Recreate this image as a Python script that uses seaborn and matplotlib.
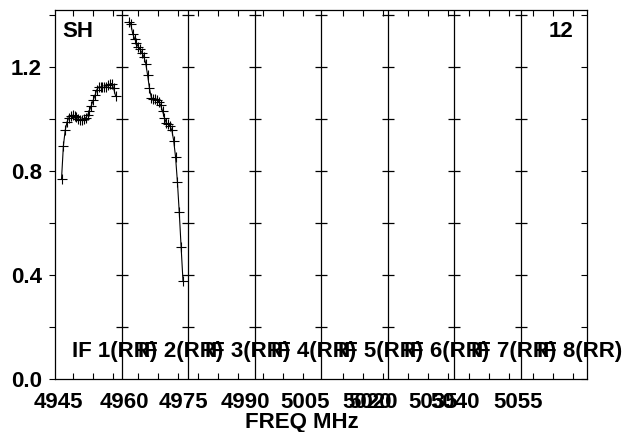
import numpy as np
import pandas as pd
import matplotlib
matplotlib.use('Agg')
import matplotlib.pyplot as plt
import seaborn as sns

sns.set_style('white')
plt.rcParams['font.family'] = ['Liberation Sans', 'DejaVu Sans']
plt.rcParams['font.weight'] = 'bold'
plt.rcParams['text.color'] = 'black'
plt.rcParams['xtick.color'] = 'black'
plt.rcParams['ytick.color'] = 'black'

# 채널 정보 (IF 1, IF 2 만 데이터가 있음)
n_chan = 30
chan_width = 0.42  # MHz
if_start = [4946.47, 4961.69]

if1_amp = [0.769, 0.897, 0.958, 0.990, 1.006, 1.014, 1.015, 1.012, 1.007, 1.002,
           0.997, 0.996, 0.999, 1.005, 1.015, 1.033, 1.052, 1.072, 1.092, 1.114,
           1.124, 1.124, 1.122, 1.122, 1.125, 1.130, 1.135, 1.137, 1.118, 1.090]
if2_amp = [1.374, 1.365, 1.329, 1.310, 1.294, 1.278, 1.268, 1.255, 1.240, 1.214,
           1.169, 1.118, 1.083, 1.078, 1.076, 1.073, 1.067, 1.054, 1.032, 1.006,
           0.986, 0.980, 0.973, 0.958, 0.917, 0.855, 0.759, 0.641, 0.507, 0.377]

# 패널 경계 (IF 8개)
panel_edges = [4945, 4960, 4975, 4990, 5005, 5020, 5035, 5050, 5065]
if_names = ['IF 1(RR)', 'IF 2(RR)', 'IF 3(RR)', 'IF 4(RR)',
            'IF 5(RR)', 'IF 6(RR)', 'IF 7(RR)', 'IF 8(RR)']

# x축 눈금
freq_tick_pos = [4945.7, 4960.6, 4973.9, 4987.9, 5001.4, 5015.4, 5016.7, 5030.3, 5035.2, 5049.4]
freq_tick_lab = ['4945', '4960', '4975', '4990', '5005', '5020', '5020', '5035', '5040', '5055']
minor_first = [4949.06, 4963.72, 4977.26, 4991.92, 5009.96, 5024.62, 5038.38, 5052.82]
minor_step = 4.51

amp_ticks = [0.0, 0.4, 0.8, 1.2]
amp_minor = [0.2, 0.6, 1.0, 1.4]

rows = []
for k, amps in enumerate([if1_amp, if2_amp]):
    for c, a in enumerate(amps):
        rows.append({'IF': k + 1, 'freq': if_start[k] + c * chan_width, 'amp': a})
df = pd.DataFrame(rows)

fig = plt.figure(figsize=(6.29, 4.32), dpi=100)
ax = fig.add_axes([55 / 629, 1 - 379 / 432, 532 / 629, 369 / 432])

sns.lineplot(data=df, x='freq', y='amp', units='IF', estimator=None, color='black',
             lw=0.8, marker='+', ms=6.5, mew=0.8, mec='black', ax=ax, legend=False)

for e in panel_edges[1:-1]:
    ax.axvline(e, color='black', lw=0.9)
    ys = amp_ticks[1:] + amp_minor
    ax.plot([e] * len(ys), ys, ls='none', marker='_', ms=9, mew=0.9, color='black')

for k, name in enumerate(if_names):
    ax.text(panel_edges[k] + 3.83, 0.085, name, fontsize=16, fontweight='bold',
            ha='left', va='baseline', color='black')

ax.text(7 / 532, (379 - 37) / 369, 'SH', transform=ax.transAxes, fontsize=16,
        fontweight='bold', ha='left', va='baseline')
ax.text((573 - 55) / 532, (379 - 37) / 369, '12', transform=ax.transAxes, fontsize=16,
        fontweight='bold', ha='right', va='baseline')

ax.set_xlim(4945, 5065)
ax.set_ylim(0, 1.42)

ax.set_xticks(freq_tick_pos)
ax.set_xticklabels(freq_tick_lab, fontsize=16, fontweight='bold')
minor_x = [m + i * minor_step for m in minor_first for i in range(3)]
ax.set_xticks(minor_x, minor=True)
ax.tick_params(axis='x', which='major', length=0, pad=9)
ax.tick_params(axis='x', which='minor', length=4.3, width=0.8, direction='in',
               top=True, bottom=True)

ax.set_yticks(amp_ticks)
ax.set_yticklabels(['0.0', '0.4', '0.8', '1.2'], fontsize=16, fontweight='bold')
ax.set_yticks(amp_minor, minor=True)
ax.tick_params(axis='y', which='both', length=4.3, width=0.8, direction='out',
               left=True, right=False, pad=5)

sec = ax.secondary_yaxis('right')
sec.set_yticks(amp_ticks + amp_minor)
sec.tick_params(axis='y', direction='in', length=4.3, width=0.8, labelright=False)
sec.spines['right'].set_visible(False)

ax.set_xlabel('')
ax.set_ylabel('')
for s in ax.spines.values():
    s.set_visible(True)
    s.set_color('black')
    s.set_linewidth(0.9)

fig.text(302 / 629, 1 - 428 / 432, 'FREQ MHz', fontsize=16, fontweight='bold',
         ha='center', va='baseline')

fig.savefig('out.png', dpi=100)
